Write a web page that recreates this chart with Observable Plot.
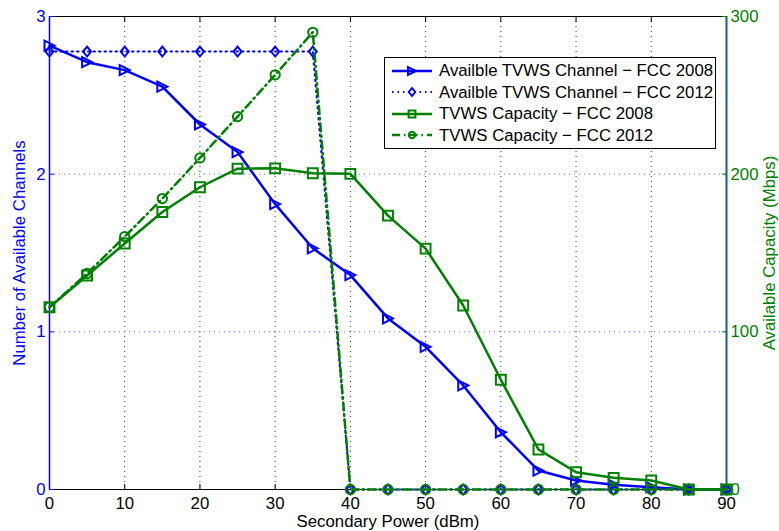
<!DOCTYPE html>
<html><head><meta charset="utf-8">
<script src="https://cdn.jsdelivr.net/npm/d3@7"></script>
<script src="https://cdn.jsdelivr.net/npm/@observablehq/plot@0.6"></script>
<style>
body{margin:0;background:#fff;font-family:"Liberation Sans",Arial,sans-serif;}
#wrap{position:relative;width:779px;height:531px;background:#fff;}
#wrap svg.layer{position:absolute;left:0;top:0;}
#legend{position:absolute;left:384px;top:57px;width:330px;height:88px;border:1px solid #000;background:#fff;padding-top:2px;box-sizing:content-box;}
.row{display:flex;align-items:center;height:21.5px;line-height:21.5px;font-size:16.8px;color:#000;white-space:nowrap;}
.row svg{margin-left:6px;margin-right:6px;flex:none;}
</style>
</head><body>
<div id="wrap"></div>
<script>
// ---- data ----
const power = [0,5,10,15,20,25,30,35,40,45,50,55,60,65,70,75,80,85,90];
const chan2008 = [2.815,2.71,2.66,2.555,2.315,2.14,1.81,1.53,1.36,1.085,0.905,0.66,0.363,0.12,0.057,0.03,0.015,0,0];
const chan2012 = [2.778,2.778,2.778,2.778,2.778,2.778,2.778,2.778,0,0,0,0,0,0,0,0,0,0,0];
const cap2008 = [115.6,135.7,156,176,191.7,203.5,203.7,200.6,200.2,173.7,152.8,116.7,69.6,25.4,11,7.4,5.7,0,0];
const cap2012 = [115.6,137,160.4,184.5,210.3,236.5,263,290,0,0,0,0,0,0,0,0,0,0,0];
const xTicks = [0,10,20,30,40,50,60,70,80,90];
const leftTicks = [0,1,2,3];
const rightTicks = [0,100,200,300];
const seriesNames = ["Availble TVWS Channel \u2212 FCC 2008","Availble TVWS Channel \u2212 FCC 2012","TVWS Capacity \u2212 FCC 2008","TVWS Capacity \u2212 FCC 2012"];

const BLUE = "#0000ff", GREEN = "#008000", TEAL = "#1a5b7b";
const W = 779, H = 531, M = {marginTop:16, marginRight:53, marginBottom:42, marginLeft:49};
const FS = 16.8;

const rows = arr => power.map((p,i) => ({p, v: arr[i]}));

// custom symbols
const triRight = {draw(ctx, size){const r=Math.sqrt(size/Math.PI); ctx.moveTo(r,0); ctx.lineTo(-r,-r); ctx.lineTo(-r,r); ctx.closePath();}};
const diamond = {draw(ctx, size){const r=Math.sqrt(size/Math.PI); ctx.moveTo(0,-r); ctx.lineTo(0.8*r,0); ctx.lineTo(0,r); ctx.lineTo(-0.8*r,0); ctx.closePath();}};
const square = {draw(ctx, size){const r=Math.sqrt(size/Math.PI)*0.85; ctx.rect(-r,-r,2*r,2*r);}};
const circle = {draw(ctx, size){const r=Math.sqrt(size/Math.PI)*0.8; ctx.moveTo(r,0); ctx.arc(0,0,r,0,2*Math.PI);}};

const fam = "'Liberation Sans', Arial, sans-serif";
const fmt = d => String(d);

const base = Plot.plot({
  width: W, height: H, ...M,
  style: {background: "transparent", fontSize: FS + "px", fontFamily: fam, overflow: "visible"},
  x: {domain: [0, 90]},
  y: {domain: [0, 3]},
  marks: [
    Plot.gridX(xTicks.slice(1, -1), {stroke: "#222", strokeOpacity: 0.9, strokeDasharray: "1,4"}),
    Plot.gridY(leftTicks.slice(1, -1), {stroke: "#5555ff", strokeOpacity: 0.9, strokeDasharray: "1,4"}),
    Plot.frame({stroke: "#000"}),
    Plot.axisX(xTicks, {tickSize: -5, tickPadding: 13, tickFormat: fmt, color: "#000", label: null, fontSize: FS}),
    Plot.axisX(xTicks, {anchor: "top", tickSize: -5, text: null, label: null, color: "#000"}),
    Plot.ruleX([0], {stroke: BLUE, strokeWidth: 1.5}),
    Plot.axisY(leftTicks, {tickSize: -5, tickPadding: 9, tickFormat: fmt, color: BLUE, label: null, fontSize: FS}),
    Plot.text(["Number of Available Channels"], {frameAnchor: "left", textAnchor: "middle", lineAnchor: "middle", rotate: -90, dx: -30, fill: BLUE, fontSize: FS}),
    Plot.text(["Secondary Power (dBm)"], {frameAnchor: "bottom", textAnchor: "middle", lineAnchor: "middle", dy: 32, fill: "#000", fontSize: FS}),
    Plot.line(rows(chan2008), {x: "p", y: "v", stroke: BLUE, strokeWidth: 2.5}),
    Plot.dot(rows(chan2008), {x: "p", y: "v", symbol: triRight, r: 5, stroke: BLUE, strokeWidth: 2, fill: "none"}),
    Plot.line(rows(chan2012), {x: "p", y: "v", stroke: BLUE, strokeWidth: 2, strokeDasharray: "1.5,4"}),
    Plot.dot(rows(chan2012), {x: "p", y: "v", symbol: diamond, r: 5, stroke: BLUE, strokeWidth: 2, fill: "none"})
  ]
});
base.classList.add("layer");

const over = Plot.plot({
  width: W, height: H, ...M,
  style: {background: "transparent", fontSize: FS + "px", fontFamily: fam, overflow: "visible"},
  x: {domain: [0, 90], axis: null},
  y: {domain: [0, 300], axis: null},
  marks: [
    Plot.ruleX([90], {stroke: TEAL, strokeWidth: 2}),
    Plot.axisY(rightTicks, {anchor: "right", tickSize: -5, tickPadding: 9, tickFormat: fmt, color: GREEN, label: null, fontSize: FS}),
    Plot.text(["Available Capacity (Mbps)"], {frameAnchor: "right", textAnchor: "middle", lineAnchor: "middle", rotate: -90, dx: 43, fill: GREEN, fontSize: FS}),
    Plot.line(rows(cap2008), {x: "p", y: "v", stroke: GREEN, strokeWidth: 2.5}),
    Plot.dot(rows(cap2008), {x: "p", y: "v", symbol: square, r: 5.8, stroke: GREEN, strokeWidth: 2, fill: "none"}),
    Plot.line(rows(cap2012), {x: "p", y: "v", stroke: GREEN, strokeWidth: 2.5, strokeDasharray: "8,4,1.5,4"}),
    Plot.dot(rows(cap2012), {x: "p", y: "v", symbol: circle, r: 5.8, stroke: GREEN, strokeWidth: 2, fill: "none"})
  ]
});
over.classList.add("layer");

const wrap = document.getElementById("wrap");
wrap.appendChild(base);
wrap.appendChild(over);

// legend
const legendSpec = [
  {color: BLUE, dash: null, sym: "tri"},
  {color: BLUE, dash: "1.5,4", sym: "dia"},
  {color: GREEN, dash: null, sym: "sq"},
  {color: GREEN, dash: "8,4,1.5,4", sym: "circ"}
];
const leg = document.createElement("div");
leg.id = "legend";
legendSpec.forEach((s, i) => {
  const row = document.createElement("div");
  row.className = "row";
  const ns = "http://www.w3.org/2000/svg";
  const svg = document.createElementNS(ns, "svg");
  svg.setAttribute("width", 42); svg.setAttribute("height", 14);
  const line = document.createElementNS(ns, "line");
  line.setAttribute("x1", 1); line.setAttribute("x2", 41); line.setAttribute("y1", 7); line.setAttribute("y2", 7);
  line.setAttribute("stroke", s.color); line.setAttribute("stroke-width", s.dash === "1.5,4" ? 2 : 2.5);
  if (s.dash) line.setAttribute("stroke-dasharray", s.dash);
  svg.appendChild(line);
  const p = document.createElementNS(ns, "path");
  const sym = {tri: triRight, dia: diamond, sq: square, circ: circle}[s.sym];
  const path = d3.path();
  sym.draw(path, Math.PI * 4 * 4);
  p.setAttribute("d", path.toString());
  p.setAttribute("transform", "translate(21,7)");
  p.setAttribute("fill", "none"); p.setAttribute("stroke", s.color); p.setAttribute("stroke-width", 2);
  svg.appendChild(p);
  row.appendChild(svg);
  const t = document.createElement("span");
  t.textContent = seriesNames[i];
  row.appendChild(t);
  leg.appendChild(row);
});
wrap.appendChild(leg);
</script>
</body></html>
